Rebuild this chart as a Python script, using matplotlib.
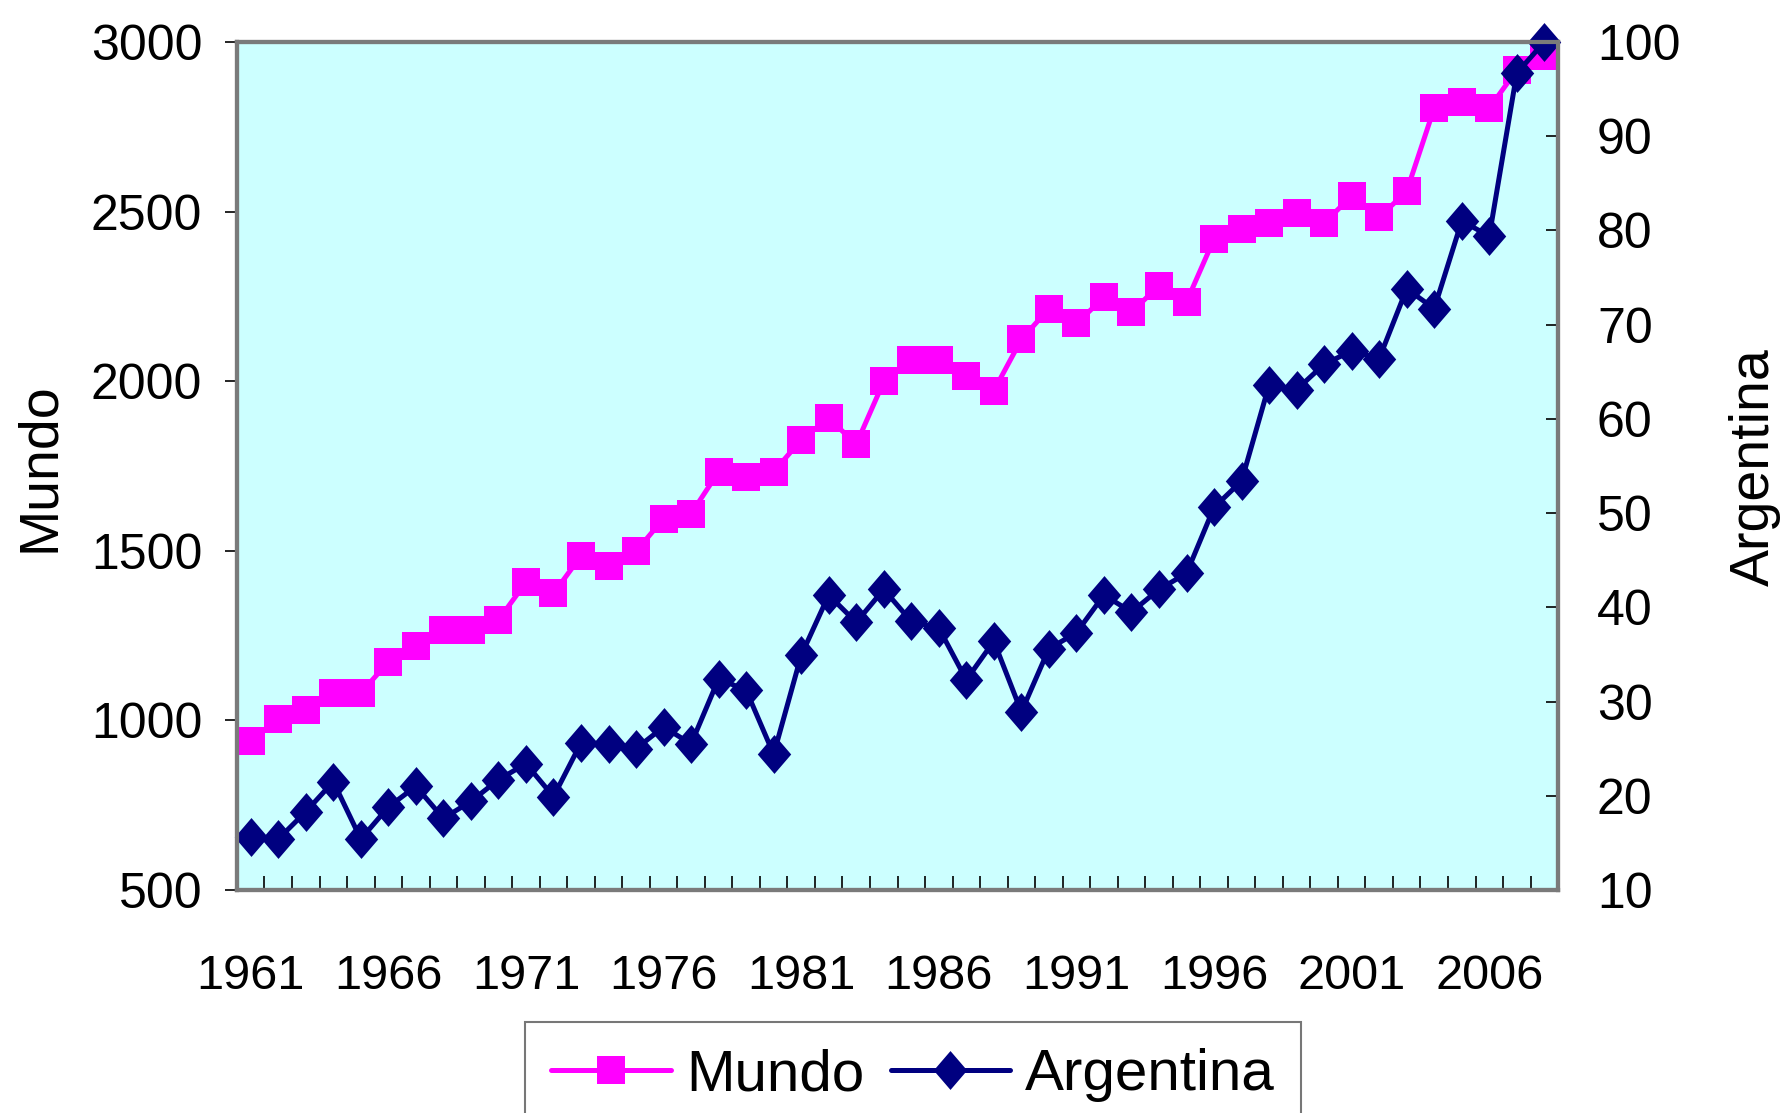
import matplotlib
matplotlib.use("Agg")
import matplotlib.pyplot as plt
from matplotlib.ticker import FixedLocator
import numpy as np

plt.rcParams["font.family"] = ["Liberation Sans", "DejaVu Sans"]

# ── data ──────────────────────────────────────────────────────────────
years = list(range(1961, 2009))

mundo = [940, 1005, 1031, 1081, 1081, 1172, 1219, 1266, 1266, 1296,
         1407, 1374, 1485, 1454, 1498, 1595, 1609, 1733, 1716, 1733,
         1827, 1891, 1814, 1999, 2063, 2063, 2016, 1972, 2123, 2214,
         2170, 2247, 2204, 2281, 2234, 2419, 2449, 2466, 2496, 2466,
         2546, 2483, 2560, 2805, 2822, 2805, 2917, 2959]

argentina = [15.6, 15.4, 18.3, 21.5, 15.4, 18.8, 21.0, 17.6, 19.4, 21.7,
             23.4, 19.9, 25.6, 25.5, 25.0, 27.3, 25.5, 32.4, 31.2, 24.4,
             34.9, 41.3, 38.4, 41.9, 38.5, 37.8, 32.3, 36.4, 28.9, 35.6,
             37.3, 41.3, 39.5, 41.9, 43.6, 50.6, 53.4, 63.6, 63.1, 65.8,
             67.2, 66.4, 73.8, 71.7, 81.0, 79.4, 96.7, 100.0]

year_labels = [1961, 1966, 1971, 1976, 1981, 1986, 1991, 1996, 2001, 2006]
left_ticks = [500, 1000, 1500, 2000, 2500, 3000]
right_ticks = [10, 20, 30, 40, 50, 60, 70, 80, 90, 100]

MAGENTA = "#FF00FF"
NAVY = "#000080"
FRAME = "#7A7A7A"

# taller-than-wide diamond like the Excel marker
diamond = [(0, 1), (0.86, 0), (0, -1), (-0.86, 0), (0, 1)]

fig = plt.figure(figsize=(17.87, 11.13), dpi=100)
ax = fig.add_axes([0.1326, 0.2004, 0.7393, 0.7619])
ax.set_facecolor("#CCFFFF")
ax2 = ax.twinx()

l1, = ax.plot(years, mundo, color=MAGENTA, linewidth=3.6, marker="s",
              markersize=20, markeredgewidth=0, clip_on=False,
              solid_joinstyle="round", solid_capstyle="round", label="Mundo")
l2, = ax2.plot(years, argentina, color=NAVY, linewidth=3.6, marker=diamond,
               markersize=28, markeredgewidth=0, clip_on=False,
               solid_capstyle="round", label="Argentina")

ax.set_xlim(1960.5, 2008.5)
ax.set_ylim(500, 3000)
ax2.set_ylim(10, 100)

# x axis: labels on every 5th year, small inside ticks between categories
ax.xaxis.set_major_locator(FixedLocator(year_labels))
ax.xaxis.set_minor_locator(FixedLocator(np.arange(1960.5, 2009, 1)))
ax.tick_params(axis="x", which="major", length=0, pad=46, labelsize=35)
ax.tick_params(axis="x", which="minor", direction="in", length=10,
               width=1.2, color="black")

ax.set_yticks(left_ticks)
ax.tick_params(axis="y", direction="out", length=9, width=1.2,
               pad=16, labelsize=36)
ax2.set_yticks(right_ticks)
ax2.tick_params(axis="y", direction="in", length=9, width=1.2,
                pad=28, labelsize=36)

for a in (ax, ax2):
    for sp in a.spines.values():
        sp.set_color(FRAME)
        sp.set_linewidth(3)

# axis titles placed where the reference has them
fig.text(40 / 1787, 0.5804, "Mundo", rotation=90, fontsize=40,
         ha="center", va="center")
fig.text(1755 / 1787, 0.5804, "Argentina", rotation=90, fontsize=40,
         ha="center", va="center")

leg = fig.legend(handles=[l1, l2], loc="upper left",
                 bbox_to_anchor=(525 / 1787, 1 - 1022 / 1113),
                 borderaxespad=0, ncol=2, fontsize=42, frameon=True,
                 fancybox=False, handlelength=2.05, handletextpad=0.26,
                 columnspacing=0.45, borderpad=0.45, markerscale=1.0)
leg.get_frame().set_edgecolor("#555555")
leg.get_frame().set_linewidth(1.5)

plt.savefig("out.png", dpi=100)
plt.close()
